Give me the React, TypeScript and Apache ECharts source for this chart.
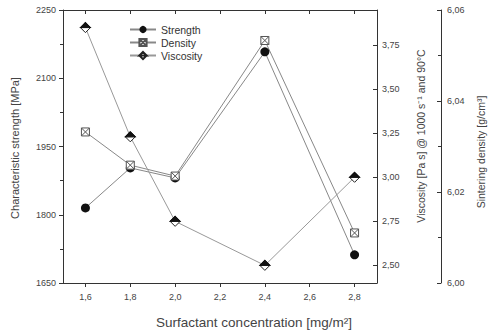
import React, { useEffect, useRef } from "react";
import * as echarts from "echarts";

const concentration = [1.6, 1.8, 2.0, 2.4, 2.8];
const strength = [1815, 1903, 1881, 2158, 1712];
const density = [6.0332, 6.0259, 6.0235, 6.0533, 6.011];
const viscosity = [3.85, 3.23, 2.75, 2.5, 3.0];
const xTicks = [1.6, 1.8, 2.0, 2.2, 2.4, 2.6, 2.8];
const viscTicks = [2.5, 2.75, 3.0, 3.25, 3.5, 3.75];

const FONT = "Liberation Sans, Arial, sans-serif";
const TXT = "#444";
const AX = "#333";

const comma = (v: number, d: number) => v.toFixed(d).replace(".", ",");

export default function App() {
  const ref = useRef<HTMLDivElement>(null);
  useEffect(() => {
    if (!ref.current) return;
    const chart = echarts.init(ref.current, undefined, { renderer: "svg" });
    const pairs = (ys: number[]) => concentration.map((x, i) => [x, ys[i]]);
    const title = (text: string, x: number, y: number, size: number, rot: number) => ({
      type: "text",
      x,
      y,
      rotation: rot,
      style: {
        text,
        fontSize: size,
        fontFamily: FONT,
        fill: TXT,
        align: "center",
        verticalAlign: "middle",
        textAlign: "center",
        textVerticalAlign: "middle",
      },
    });
    chart.setOption({
      animation: false,
      backgroundColor: "#fff",
      textStyle: { fontFamily: FONT },
      grid: { left: 63, right: 111, top: 10, bottom: 50 },
      graphic: [
        title("Characteristic strength [MPa]", 15, 148, 11, Math.PI / 2),
        title("Viscosity [Pa s] @ 1000 s⁻¹ and 90°C", 421, 136, 10.5, Math.PI / 2),
        title("Sintering density [g/cm³]", 481, 152, 10.5, Math.PI / 2),
        title("Surfactant concentration [mg/m²]", 254, 322, 13.5, 0),
      ],
      legend: {
        orient: "vertical",
        left: 124,
        top: 19,
        itemWidth: 26,
        itemHeight: 9,
        itemGap: 2,
        textStyle: { fontSize: 10.5, color: "#333", fontFamily: FONT },
        data: ["Strength", "Density", "Viscosity"],
      },
      xAxis: [
        {
          type: "value",
          min: 1.5,
          max: 2.9,
          position: "bottom",
          axisLine: { lineStyle: { color: AX, width: 1 } },
          axisTick: { customValues: xTicks, length: 4, lineStyle: { color: AX } },
          axisLabel: {
            customValues: xTicks,
            formatter: (v: number) => comma(v, 1),
            fontSize: 9,
            color: TXT,
            margin: 9,
          },
          splitLine: { show: false },
        },
        {
          type: "value",
          min: 1.5,
          max: 2.9,
          position: "top",
          axisLine: { lineStyle: { color: AX, width: 1 } },
          axisTick: { customValues: xTicks, inside: true, length: 4, lineStyle: { color: AX } },
          axisLabel: { show: false },
          splitLine: { show: false },
        },
      ],
      yAxis: [
        {
          type: "value",
          min: 1650,
          max: 2250,
          interval: 150,
          position: "left",
          axisLine: { show: true, lineStyle: { color: AX } },
          axisTick: { show: true, length: 4, lineStyle: { color: AX } },
          minorTick: { show: true, splitNumber: 2, length: 3, lineStyle: { color: AX } },
          axisLabel: { fontSize: 9, color: TXT, margin: 7, formatter: (v: number) => String(v) },
          splitLine: { show: false },
        },
        {
          type: "value",
          min: 2.4,
          max: 3.95,
          position: "right",
          axisLine: { show: true, lineStyle: { color: AX } },
          axisTick: { show: true, inside: true, customValues: viscTicks, length: 4, lineStyle: { color: AX } },
          axisLabel: {
            customValues: viscTicks,
            formatter: (v: number) => comma(v, 2),
            fontSize: 9,
            color: TXT,
            margin: 5,
          },
          splitLine: { show: false },
        },
        {
          type: "value",
          min: 6.0,
          max: 6.06,
          interval: 0.02,
          position: "right",
          offset: 64,
          axisLine: { show: true, lineStyle: { color: AX } },
          axisTick: { show: true, inside: true, length: 4, lineStyle: { color: AX } },
          minorTick: { show: true, splitNumber: 2, length: 3, lineStyle: { color: AX } },
          axisLabel: {
            formatter: (v: number) => comma(v, 2),
            fontSize: 9,
            color: TXT,
            margin: 6,
          },
          splitLine: { show: false },
        },
      ],
      series: [
        {
          name: "Strength",
          type: "line",
          yAxisIndex: 0,
          data: pairs(strength),
          symbol: "circle",
          symbolSize: 9,
          itemStyle: { color: "#111" },
          lineStyle: { color: "#888", width: 1 },
          z: 3,
        },
        {
          name: "Density",
          type: "line",
          yAxisIndex: 2,
          data: pairs(density),
          symbol: "path://M0,0 L10,0 L10,10 L0,10 Z M0,0 L10,10 M10,0 L0,10",
          symbolSize: 8,
          itemStyle: { color: "#fff", borderColor: "#555", borderWidth: 1 },
          lineStyle: { color: "#888", width: 1 },
          z: 3,
        },
        {
          name: "Viscosity",
          type: "line",
          yAxisIndex: 1,
          data: pairs(viscosity),
          symbol: "path://M5,0 L10,5 L5,10 L0,5 Z M5,0 L10,5 L0,5 Z",
          symbolSize: 10,
          itemStyle: { color: "#fff", borderColor: "#222", borderWidth: 1 },
          lineStyle: { color: "#999", width: 1 },
          z: 3,
        },
        {
          name: "ViscosityTop",
          type: "line",
          yAxisIndex: 1,
          data: pairs(viscosity),
          showSymbol: true,
          symbol: "path://M5,0 L10,5 L0,5 Z",
          symbolSize: [10, 5],
          symbolOffset: [0, -2.5],
          itemStyle: { color: "#111", borderColor: "#111" },
          lineStyle: { width: 0, opacity: 0 },
          z: 6,
          silent: true,
        },
      ],
    });
    return () => chart.dispose();
  }, []);
  return (
    <div
      ref={ref}
      style={{ position: "absolute", left: 0, top: 0, width: 488, height: 333 }}
    />
  );
}
